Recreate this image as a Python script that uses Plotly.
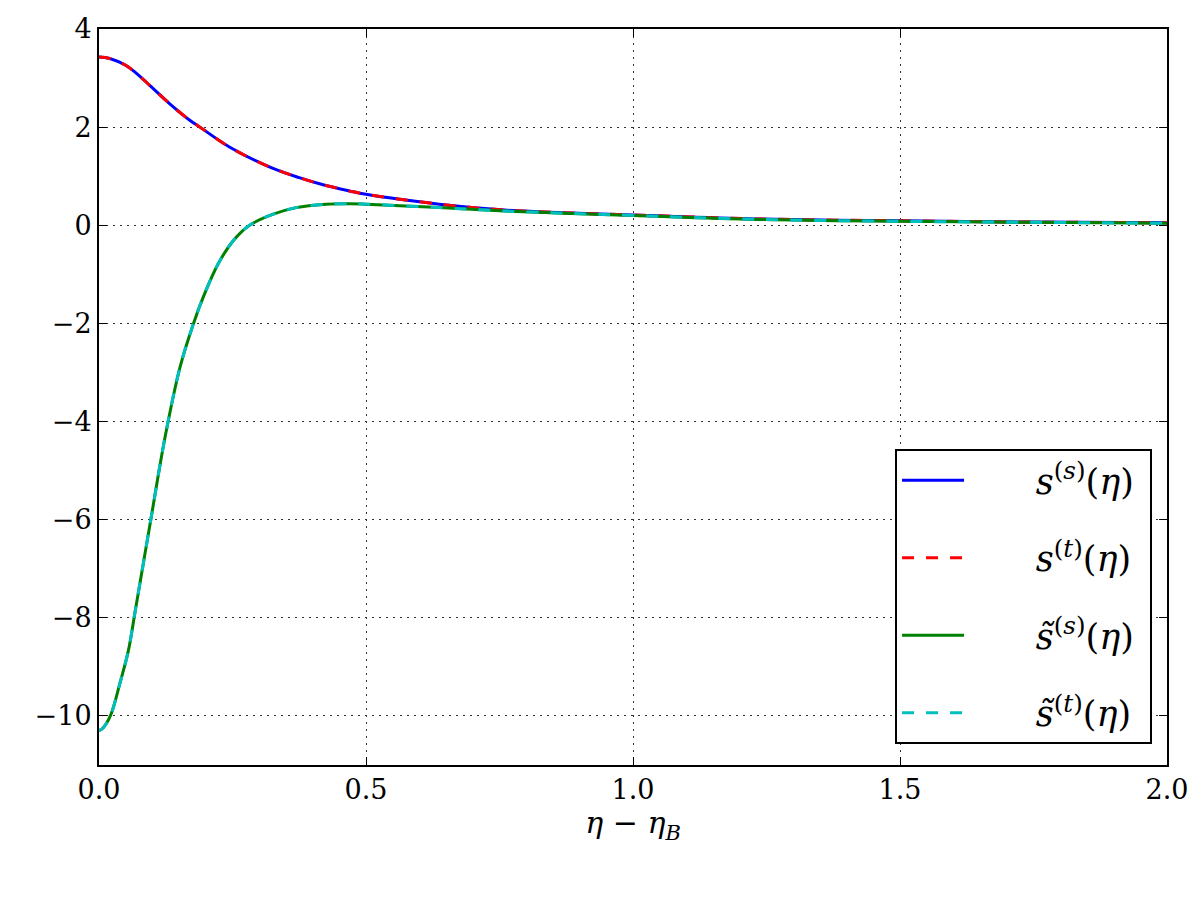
import plotly.graph_objects as go

# upper pair: s^(s) and s^(t) (coincident)
eta_upper = [0.0, 0.02, 0.05, 0.075, 0.095, 0.132, 0.17, 0.189, 0.245, 0.319, 0.375, 0.418,
             0.469, 0.5, 0.637, 0.76, 0.885, 1.0, 1.23, 1.5, 1.75, 2.0]
s_s = [3.43, 3.40, 3.26, 3.05, 2.85, 2.48, 2.14, 2.0, 1.59, 1.19, 0.97, 0.83,
       0.70, 0.63, 0.43, 0.31, 0.25, 0.21, 0.13, 0.09, 0.065, 0.05]
s_t = [3.43, 3.40, 3.26, 3.05, 2.85, 2.48, 2.14, 2.0, 1.59, 1.19, 0.97, 0.83,
       0.70, 0.63, 0.43, 0.31, 0.25, 0.21, 0.13, 0.09, 0.065, 0.05]

# lower pair: s~^(s) and s~^(t) (coincident)
eta_lower = [0.0, 0.008, 0.022, 0.039, 0.055, 0.068, 0.097, 0.124, 0.152, 0.177, 0.195,
             0.223, 0.251, 0.282, 0.325, 0.369, 0.425, 0.469, 0.5, 0.637, 0.76, 0.885,
             1.0, 1.23, 1.5, 1.75, 2.0]
st_s = [-10.30, -10.24, -9.98, -9.34, -8.67, -7.85, -6.0, -4.3, -2.88, -2.0, -1.47,
        -0.79, -0.32, 0.0, 0.22, 0.36, 0.43, 0.44, 0.43, 0.36, 0.29, 0.24,
        0.2, 0.12, 0.08, 0.06, 0.04]
st_t = list(st_s)

x_ticks = [0.0, 0.5, 1.0, 1.5, 2.0]
y_ticks = [4, 2, 0, -2, -4, -6, -8, -10]

pad = "&nbsp;" * 6
names = [
    pad + "<i>s</i><sup>(<i>s</i>)</sup>(<i>η</i>)&nbsp;",
    pad + "<i>s</i><sup>(<i>t</i>)</sup>(<i>η</i>)&nbsp;",
    pad + "<i>s̃</i><sup>(<i>s</i>)</sup>(<i>η</i>)&nbsp;",
    pad + "<i>s̃</i><sup>(<i>t</i>)</sup>(<i>η</i>)&nbsp;",
]

fig = go.Figure()
series = [
    (eta_upper, s_s, "#0000ff", "solid", names[0]),
    (eta_upper, s_t, "#ff0000", "12px,12px", names[1]),
    (eta_lower, st_s, "#008000", "solid", names[2]),
    (eta_lower, st_t, "#00bfbf", "12px,12px", names[3]),
]
for i, (x, y, c, d, n) in enumerate(series):
    fig.add_trace(go.Scatter(
        x=x, y=y, mode="lines", name=n, legendgroup=f"g{i}",
        line=dict(color=c, width=3, dash=d, shape="spline", smoothing=1.0),
    ))

fam = "DejaVu Serif"
axis_common = dict(
    showline=True, linecolor="black", linewidth=2, mirror="allticks",
    ticks="inside", ticklen=8, tickwidth=1, tickcolor="black",
    showgrid=True, gridcolor="#333333", gridwidth=1, griddash="2px,5px",
    zeroline=False, tickfont=dict(family=fam, size=27, color="black"),
)

fig.update_xaxes(range=[0, 2], tickvals=x_ticks, tickformat=".1f",
                 title=dict(text="<i>η</i> − <i>η</i><sub><i>B</i></sub>",
                            font=dict(family=fam, size=30, color="black"),
                            standoff=0),
                 **axis_common)
fig.update_yaxes(range=[-11, 4], tickvals=y_ticks, **axis_common)

fig.update_layout(
    width=1200, height=900,
    margin=dict(l=99, r=30, t=29, b=135),
    plot_bgcolor="white", paper_bgcolor="white",
    font=dict(family=fam, color="black"),
    legend=dict(
        x=0.986, y=0.0285, xanchor="right", yanchor="bottom",
        bgcolor="white", bordercolor="black", borderwidth=2,
        font=dict(family=fam, size=35, color="black"),
        tracegroupgap=29, itemwidth=62,
    ),
    showlegend=True,
)

fig.write_html("out.html")
